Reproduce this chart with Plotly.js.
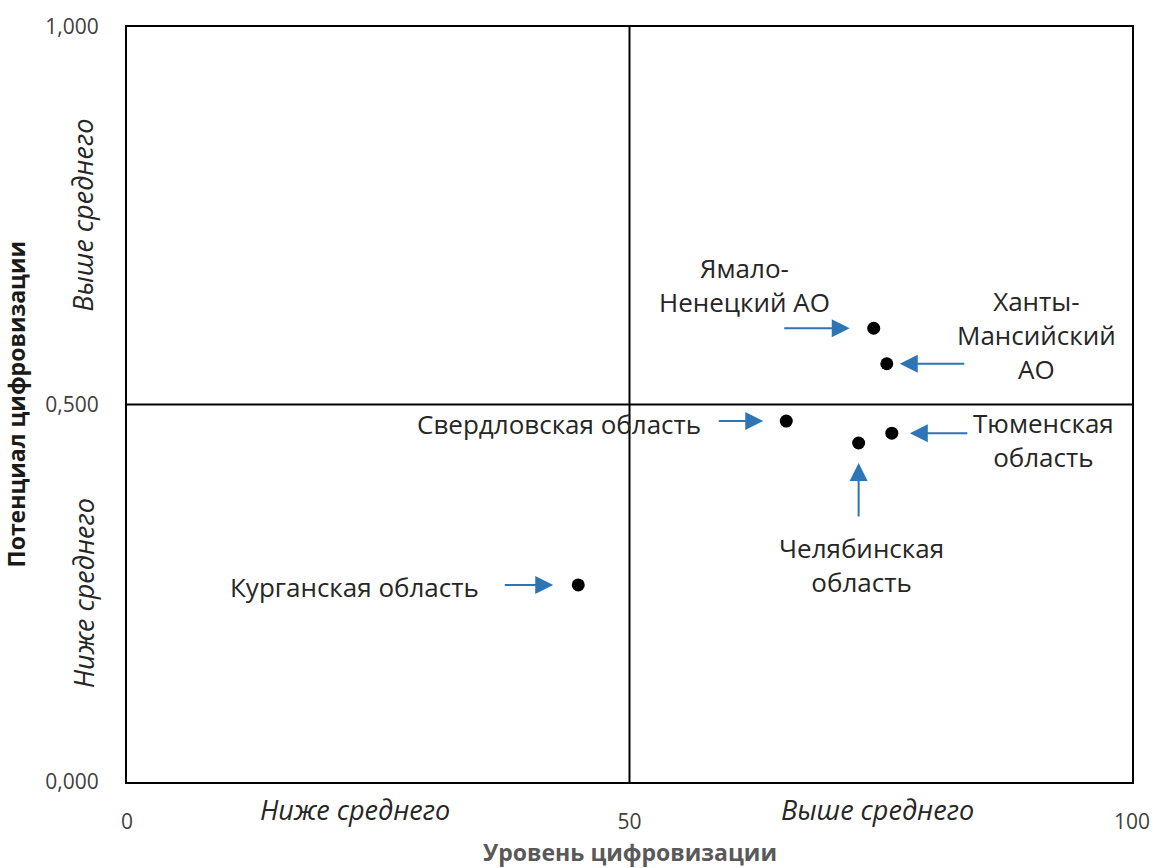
<!DOCTYPE html>
<html>
<head>
<meta charset="utf-8">
<script src="https://cdn.plot.ly/plotly-3.0.1.min.js"></script>
<style>html,body{margin:0;padding:0;background:#fff;}#chart{width:1155px;height:868px;}</style>
</head>
<body>
<div id="chart"></div>
<script>
// Data
const regions = ["Ямало-<br>Ненецкий АО", "Ханты-<br>Мансийский<br>АО", "Свердловская область", "Челябинская<br>область", "Тюменская<br>область", "Курганская область"];
const digitalLevel = [74.3, 75.6, 65.6, 72.8, 76.1, 44.9];
const digitalPotential = [0.601, 0.554, 0.478, 0.449, 0.462, 0.261];
const xTickVals = [0, 50, 100];
const xTickText = ["0", "50", "100"];
const yTickVals = [0, 0.5, 1];
const yTickText = ["0,000", "0,500", "1,000"];
const xMean = 50;
const yMean = 0.5;
const xTitle = "Уровень цифровизации";
const yTitle = "Потенциал цифровизации";

// label offsets (pixels) and arrow settings per region
const labelShift = [[-129, 43], [150, 29], [-227, -3], [3, -122], [152, -7], [-224, -2]];
const arrowTail = [[-91, 0], [79, 0], [-69, 0], [0, 75], [77, 0], [-75, 0]];
const arrowStandoff = [24, 13, 23, 20, 18, 25];

const FONT = "Open Sans, Noto Sans, sans-serif";
const arrowColor = "#2E75B6";

const annotations = [];
for (let i = 0; i < regions.length; i++) {
  annotations.push({
    x: digitalLevel[i], y: digitalPotential[i], xref: "x", yref: "y",
    text: regions[i], showarrow: false,
    xshift: labelShift[i][0], yshift: labelShift[i][1],
    font: {family: FONT, size: 26, color: "#262626"}, align: "center"
  });
  annotations.push({
    x: digitalLevel[i], y: digitalPotential[i], xref: "x", yref: "y",
    text: "", showarrow: true,
    ax: arrowTail[i][0], ay: arrowTail[i][1],
    arrowhead: 2, arrowsize: 1.8, arrowwidth: 2, arrowcolor: arrowColor,
    standoff: arrowStandoff[i]
  });
}
// quadrant labels
const quadFont = {family: FONT, size: 27, color: "#262626"};
annotations.push({x: 22.7, y: 0, xref: "x", yref: "y", yanchor: "middle", yshift: -27, text: "<i>Ниже среднего</i>", showarrow: false, font: quadFont});
annotations.push({x: 74.7, y: 0, xref: "x", yref: "y", yanchor: "middle", yshift: -27, text: "<i>Выше среднего</i>", showarrow: false, font: quadFont});
annotations.push({x: 0, y: 0.75, xref: "x", yref: "y", xshift: -44, textangle: -90, text: "<i>Выше среднего</i>", showarrow: false, font: quadFont});
annotations.push({x: 0, y: 0.25, xref: "x", yref: "y", xshift: -44, textangle: -90, text: "<i>Ниже среднего</i>", showarrow: false, font: quadFont});
// axis titles
annotations.push({x: 0.5, y: 0, xref: "paper", yref: "paper", yanchor: "middle", yshift: -70, text: "<b>" + xTitle + "</b>", showarrow: false, font: {family: FONT, size: 23, color: "#595959"}});
annotations.push({x: 0, y: 0.5, xref: "paper", yref: "paper", xanchor: "center", xshift: -112, textangle: -90, text: "<b>" + yTitle + "</b>", showarrow: false, font: {family: FONT, size: 23, color: "#1a1a1a"}});

const trace = {
  x: digitalLevel, y: digitalPotential, type: "scatter", mode: "markers",
  marker: {size: 13, color: "#000000"}, hoverinfo: "skip", showlegend: false
};

const layout = {
  width: 1155, height: 868,
  margin: {l: 127, r: 23, t: 27, b: 86},
  paper_bgcolor: "#ffffff", plot_bgcolor: "#ffffff",
  showlegend: false,
  xaxis: {
    range: [0, 100], tickvals: xTickVals, ticktext: xTickText,
    showgrid: false, zeroline: false, showline: true, mirror: true,
    linecolor: "#000000", linewidth: 2, ticks: "", ticklabelstandoff: 20,
    tickfont: {family: FONT, size: 21, color: "#404040"}
  },
  yaxis: {
    range: [0, 1], tickvals: yTickVals, ticktext: yTickText,
    showgrid: false, zeroline: false, showline: true, mirror: true,
    linecolor: "#000000", linewidth: 2, ticks: "", ticklabelstandoff: 22,
    tickfont: {family: FONT, size: 21, color: "#404040"}
  },
  shapes: [
    {type: "line", xref: "x", yref: "paper", x0: xMean, x1: xMean, y0: 0, y1: 1, line: {color: "#000000", width: 2}},
    {type: "line", xref: "paper", yref: "y", x0: 0, x1: 1, y0: yMean, y1: yMean, line: {color: "#000000", width: 2}}
  ],
  annotations: annotations
};

Plotly.newPlot("chart", [trace], layout, {displayModeBar: false, staticPlot: true});
</script>
</body>
</html>
